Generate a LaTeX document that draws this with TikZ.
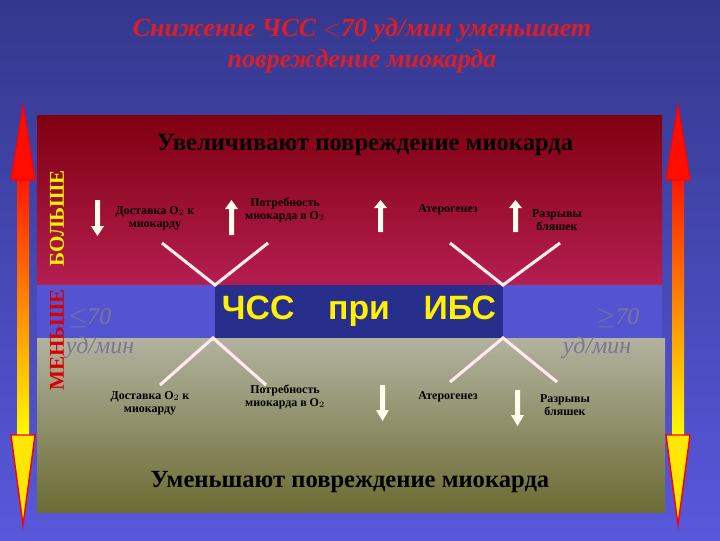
\documentclass[tikz,border=0pt]{standalone}
\usepackage{fontspec}
\setmainfont{Liberation Serif}
\newfontfamily\arialf{Liberation Sans}
\definecolor{bgtop}{RGB}{52,56,140}
\definecolor{bgbot}{RGB}{88,88,220}
\definecolor{rtop}{RGB}{128,0,16}
\definecolor{rbot}{RGB}{180,30,80}
\definecolor{gtop}{RGB}{178,178,160}
\definecolor{gbot}{RGB}{108,108,52}
\definecolor{midb}{RGB}{84,84,210}
\definecolor{hrb}{RGB}{40,46,140}
\definecolor{titr}{RGB}{220,30,40}
\definecolor{gtxt}{RGB}{120,120,150}
\begin{document}
\begin{tikzpicture}[x=0.025cm,y=-0.025cm,
  small/.style={font=\fontsize{8.5}{9}\selectfont\bfseries, align=center, text=black},
  warr/.style={draw=none, fill=white!92!yellow},
  vline/.style={draw=white!92!red, line width=2.2pt},
  grey/.style={text=gtxt, font=\fontsize{17}{18}\selectfont\itshape}]
\useasboundingbox (0,0) rectangle (720,540);
\shade[top color=bgtop, bottom color=bgbot] (0,0) rectangle (720,540);
\shade[top color=rtop, bottom color=rbot] (37,115) rectangle (662,285);
\fill[midb] (37,285) rectangle (662,338);
\shade[top color=gtop, bottom color=gbot] (37,338) rectangle (665,512);
\node[fill=hrb, minimum width=288*0.025cm, minimum height=53*0.025cm, inner sep=0] (hr) at (359,311.5) {};
\node[text=yellow, font=\arialf\fontsize{24}{26}\selectfont\bfseries] (hrt) at (hr) {ЧСС\quad при\quad ИБС};
% title
\node[text=titr, font=\fontsize{18.5}{22}\selectfont\bfseries\itshape, align=center] (title) at (362,46) {Снижение ЧСС $<$70 уд/мин уменьшает\\повреждение миокарда};
\node[font=\fontsize{17.5}{18}\selectfont\bfseries] (up) at (365,145) {Увеличивают повреждение миокарда};
\node[font=\fontsize{17.5}{18}\selectfont\bfseries] (dn) at (350,482) {Уменьшают повреждение миокарда};
% side arrows
\foreach \X/\n in {23/l,678/r}{
  \shade[top color=red!80!orange, bottom color=yellow] (\X-6,180) rectangle (\X+6,440);
  \draw[red, line width=0.8pt, fill=red!90!orange] (\X-12,180) -- (\X,105) -- (\X+12,180) -- cycle;
  \draw[red, line width=1pt, fill=yellow!90!orange] (\X-12,435) -- (\X,525) -- (\X+12,435) -- cycle;
}
\node[rotate=90, text=yellow, font=\fontsize{15}{16}\selectfont\bfseries] (bol) at (57,218) {БОЛЬШЕ};
\node[rotate=90, text=red!85!black, font=\fontsize{15}{16}\selectfont\bfseries] (men) at (57,340) {МЕНЬШЕ};
\node[grey] (l70) at (90,318) {$\leq$70};
\node[grey] (lud) at (100,348) {уд/мин};
\node[grey] (r70) at (618,318) {$\geq$70};
\node[grey] (rud) at (597,348) {уд/мин};
% upper items
\node[small] (a1) at (155,218) {Доставка O$_2$ к\\миокарду};
\node[small] (a2) at (285,210) {Потребность\\миокарда в O$_2$};
\node[small] (a3) at (448,210) {Атерогенез};
\node[small] (a4) at (557,220) {Разрывы\\бляшек};
\fill[warr] (95,200) rectangle (100,226) -- (104,226) -- (97.5,236) -- (91,226) -- (95,226);
\fill[warr] (229,235) rectangle (234,209) -- (238,209) -- (231.5,200) -- (225,209) -- (229,209);
\fill[warr] (378,232) rectangle (383,208) -- (387,208) -- (380.5,200) -- (374,208) -- (378,208);
\fill[warr] (513,232) rectangle (518,208) -- (522,208) -- (515.5,200) -- (509,208) -- (513,208);
% V lines
\coordinate (t1) at (215,285); \coordinate (t2) at (503,285);
\coordinate (b1) at (213,338); \coordinate (b2) at (503,338);
\draw[vline] (162,243) -- (t1) -- (268,243);
\draw[vline] (450,243) -- (t2) -- (560,243);
\draw[vline] (160,385) -- (b1) -- (266,385);
\draw[vline] (450,382) -- (b2) -- (557,382);
% lower items
\node[small] (c1) at (150,403) {Доставка O$_2$ к\\миокарду};
\node[small] (c2) at (285,397) {Потребность\\миокарда в O$_2$};
\node[small] (c3) at (448,397) {Атерогенез};
\node[small] (c4) at (565,405) {Разрывы\\бляшек};
\fill[warr] (380,385) rectangle (385,410) -- (389,410) -- (382.5,421) -- (376,410) -- (380,410);
\fill[warr] (515,390) rectangle (520,415) -- (524,415) -- (517.5,426) -- (511,415) -- (515,415);
\end{tikzpicture}
\end{document}
